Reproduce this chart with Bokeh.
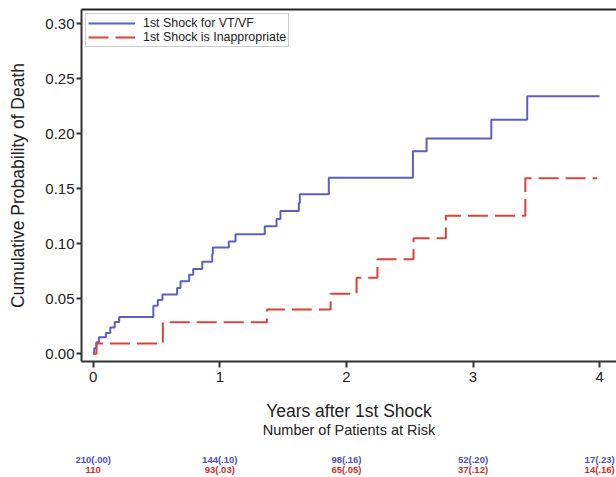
from bokeh.plotting import figure
from bokeh.models import Range1d, FixedTicker, LinearAxis, Legend, LegendItem
from bokeh.embed import file_html
from bokeh.resources import INLINE

# ---- data ----
years_ticks = [0, 1, 2, 3, 4]
prob_ticks = [0.00, 0.05, 0.10, 0.15, 0.20, 0.25, 0.30]

vt_times = [0.0, 0.008, 0.025, 0.045, 0.10, 0.135, 0.17, 0.205, 0.475, 0.51, 0.547,
            0.663, 0.69, 0.758, 0.79, 0.861, 0.94, 0.945, 1.071, 1.124, 1.355, 1.448,
            1.479, 1.624, 1.632, 1.861, 2.525, 2.633, 3.144, 3.428]
vt_values = [0.0, 0.005, 0.0105, 0.015, 0.019, 0.024, 0.029, 0.0335, 0.0437, 0.049, 0.054,
             0.0598, 0.066, 0.0718, 0.077, 0.0836, 0.0906, 0.0966, 0.102, 0.1087, 0.116, 0.1225,
             0.1297, 0.137, 0.145, 0.160, 0.184, 0.1955, 0.2127, 0.2341]
vt_end = 4.0

inap_times = [0.0, 0.026, 0.55, 1.372, 1.875, 2.08, 2.245, 2.53, 2.785, 3.413]
inap_values = [0.0, 0.0093, 0.0286, 0.0403, 0.0545, 0.069, 0.086, 0.105, 0.1255, 0.1595]
inap_end = 3.98

risk_vt = ["210(.00)", "144(.10)", "98(.16)", "52(.20)", "17(.23)"]
risk_inap = ["110", "93(.03)", "65(.05)", "37(.12)", "14(.16)"]

x_title = "Years after 1st Shock"
risk_title = "Number of Patients at Risk"

BLUE = "#5b5ec4"
RED = "#d8433a"
TXT = "#222222"
FONT = "Liberation Sans"

p = figure(width=616, height=477, output_backend="svg", toolbar_location=None,
           x_range=Range1d(-0.0924, 4.133), y_range=Range1d(-0.00697, 0.3128),
           min_border_left=81, min_border_right=0, min_border_top=9, min_border_bottom=115,
           background_fill_color="white", border_fill_color="white")
p.outline_line_color = None
p.xgrid.visible = False
p.ygrid.visible = False

for ax in (p.xaxis[0], p.yaxis[0]):
    ax.axis_line_width = 2
    ax.axis_line_color = "#333333"
    ax.major_tick_line_color = "#333333"
    ax.major_tick_line_width = 2
    ax.major_tick_in = 0
    ax.minor_tick_line_color = None
    ax.major_label_text_font = FONT
    ax.major_label_text_font_size = "15px"
    ax.major_label_text_color = TXT
    ax.axis_label_text_font = FONT
    ax.axis_label_text_font_style = "normal"
    ax.axis_label_text_color = TXT

p.xaxis.ticker = FixedTicker(ticks=years_ticks)
p.xaxis.major_tick_out = 6
p.xaxis.major_label_standoff = 4
p.xaxis.axis_label = x_title
p.xaxis.axis_label_text_font_size = "17.5px"
p.xaxis.axis_label_standoff = 16

p.yaxis.ticker = FixedTicker(ticks=prob_ticks)
p.yaxis.major_label_overrides = {t: f"{t:.2f}" for t in prob_ticks}
p.yaxis.major_tick_out = 5
p.yaxis.major_label_standoff = 2
p.yaxis.axis_label = "Cumulative Probability of Death"
p.yaxis.axis_label_text_font_size = "17.5px"
p.yaxis.axis_label_standoff = 14

top = LinearAxis(ticker=FixedTicker(ticks=[]), axis_line_width=2, axis_line_color="#222222",
                 major_tick_out=0, major_tick_in=0, minor_tick_out=0, minor_tick_in=0,
                 major_label_text_font_size="0px")
p.add_layout(top, "above")

def text_axis(**kw):
    return LinearAxis(axis_line_color=None, major_tick_line_color=None, minor_tick_line_color=None,
                      major_tick_out=0, major_tick_in=0, minor_tick_out=0, minor_tick_in=0, **kw)

ax_title = text_axis(ticker=FixedTicker(ticks=[]), axis_label=risk_title,
                     axis_label_text_font=FONT, axis_label_text_font_size="14.5px",
                     axis_label_text_font_style="normal", axis_label_text_color=TXT,
                     axis_label_standoff=-2, major_label_standoff=0)
p.add_layout(ax_title, "below")

ax_vt = text_axis(ticker=FixedTicker(ticks=years_ticks),
                  major_label_overrides={t: s for t, s in zip(years_ticks, risk_vt)},
                  major_label_text_font=FONT, major_label_text_font_size="9.5px",
                  major_label_text_font_style="bold", major_label_text_color="#4a4fb8",
                  major_label_standoff=13)
p.add_layout(ax_vt, "below")
ax_in = text_axis(ticker=FixedTicker(ticks=years_ticks),
                  major_label_overrides={t: s for t, s in zip(years_ticks, risk_inap)},
                  major_label_text_font=FONT, major_label_text_font_size="9.5px",
                  major_label_text_font_style="bold", major_label_text_color="#c8302a",
                  major_label_standoff=-4)
p.add_layout(ax_in, "below")

r_vt = p.step(vt_times + [vt_end], vt_values + [vt_values[-1]], mode="after",
              line_color=BLUE, line_width=2)
r_in = p.step(inap_times + [inap_end], inap_values + [inap_values[-1]], mode="after",
              line_color=RED, line_width=2, line_dash="20 7")

legend = Legend(items=[LegendItem(label="1st Shock for VT/VF", renderers=[r_vt]),
                       LegendItem(label="1st Shock is Inappropriate", renderers=[r_in])],
                location="top_left", margin=4, padding=2, spacing=0,
                glyph_width=47, glyph_height=12, label_height=12, label_standoff=8,
                label_text_font=FONT, label_text_font_size="12.4px", label_text_color=TXT,
                border_line_color="#999999", border_line_width=1.5,
                background_fill_color="white", background_fill_alpha=1)
p.add_layout(legend)

open("out.html", "w").write(file_html(p, INLINE))
